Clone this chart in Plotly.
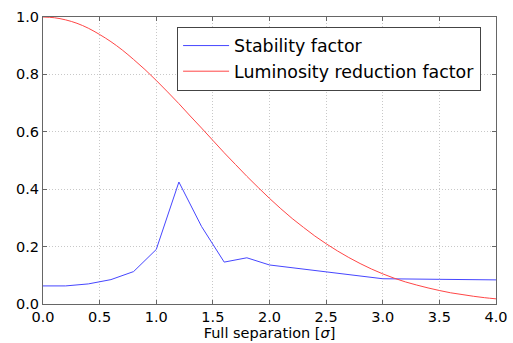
import plotly.graph_objects as go

# Stability factor sampled vs full separation (in sigma)
sep_stab = [0.0, 0.2, 0.4, 0.6, 0.8, 1.0, 1.2, 1.4, 1.6, 1.8, 2.0, 2.5, 3.0, 3.5, 4.0]
stability = [0.063, 0.063, 0.070, 0.085, 0.113, 0.190, 0.425, 0.270, 0.146, 0.161,
             0.136, 0.112, 0.088, 0.086, 0.084]

# Luminosity reduction factor vs full separation (in sigma)
sep_lumi = [0.0, 0.1, 0.2, 0.3, 0.4, 0.5, 0.6, 0.7, 0.8, 0.9, 1.0, 1.1, 1.2, 1.3, 1.4,
            1.5, 1.6, 1.7, 1.8, 1.9, 2.0, 2.1, 2.2, 2.3, 2.4, 2.5, 2.6, 2.7, 2.8, 2.9,
            3.0, 3.1, 3.2, 3.3, 3.4, 3.5, 3.6, 3.7, 3.8, 3.9, 4.0]
lumi = [1.000, 0.9975, 0.990, 0.978, 0.961, 0.939, 0.914, 0.885, 0.852, 0.817, 0.779,
        0.739, 0.698, 0.655, 0.613, 0.570, 0.527, 0.486, 0.445, 0.406, 0.368, 0.332,
        0.298, 0.267, 0.237, 0.210, 0.185, 0.162, 0.141, 0.122, 0.105, 0.090, 0.077,
        0.066, 0.056, 0.047, 0.039, 0.033, 0.027, 0.022, 0.018]

x_ticks = [0.0, 0.5, 1.0, 1.5, 2.0, 2.5, 3.0, 3.5, 4.0]
y_ticks = [0.0, 0.2, 0.4, 0.6, 0.8, 1.0]

fig = go.Figure()
fig.add_trace(go.Scatter(x=sep_stab, y=stability, mode="lines", name="Stability factor",
                         line=dict(color="rgb(70,70,255)", width=1)))
fig.add_trace(go.Scatter(x=sep_lumi, y=lumi, mode="lines", name="Luminosity reduction factor",
                         line=dict(color="rgb(255,70,70)", width=1, shape="spline")))

axis_common = dict(
    showline=True, linecolor="#666666", linewidth=1, mirror="ticks",
    ticks="inside", ticklen=4, tickcolor="#666666",
    showgrid=True, gridcolor="#c8c8c8", griddash="1px,2px", gridwidth=1,
    zeroline=False, automargin=False,
    tickfont=dict(family="DejaVu Sans", size=14.5, color="black"),
)

fig.update_layout(
    width=513, height=343,
    margin=dict(l=42.5, r=16.5, t=17, b=39, autoexpand=False),
    paper_bgcolor="white", plot_bgcolor="white",
    font=dict(family="DejaVu Sans", color="black"),
    xaxis=dict(range=[0, 4], tickvals=x_ticks, ticktext=[f"{v:.1f}" for v in x_ticks],
               title=dict(text="Full separation [<i>σ</i>]", font=dict(size=14.5), standoff=2),
               **axis_common),
    yaxis=dict(range=[0, 1], tickvals=y_ticks, ticktext=[f"{v:.1f}" for v in y_ticks],
               **axis_common),
    legend=dict(x=0.296, y=0.966, xanchor="left", yanchor="top",
                bordercolor="#444444", borderwidth=1, bgcolor="white",
                itemwidth=46,
                font=dict(family="DejaVu Sans", size=17.4), tracegroupgap=0),
    showlegend=True,
)

fig.write_html("out.html")
